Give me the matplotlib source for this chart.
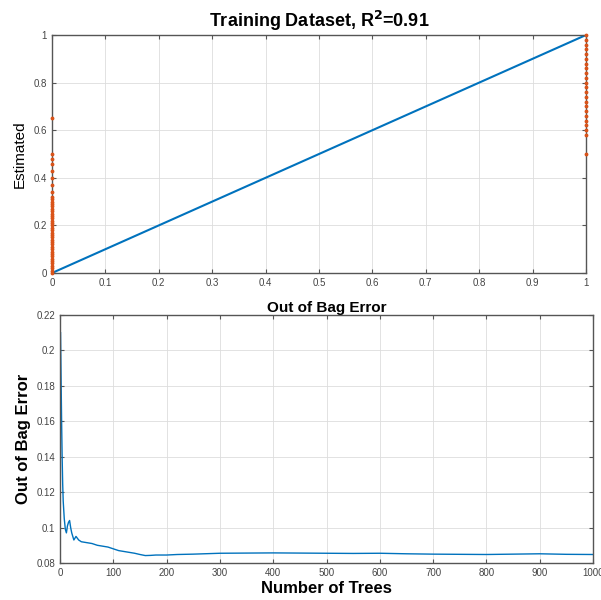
import numpy as np
import matplotlib
matplotlib.use('Agg')
from matplotlib import pyplot as plt

plt.rcParams['font.family'] = ['Liberation Sans', 'DejaVu Sans']

# top panel: estimated values for the two true classes
actual_zero_est = [0.0, 0.01, 0.02, 0.03, 0.04, 0.05, 0.06, 0.07, 0.08, 0.09,
                   0.10, 0.11, 0.12, 0.13, 0.14, 0.15, 0.16, 0.17, 0.18, 0.19,
                   0.20, 0.21, 0.22, 0.23, 0.24, 0.25, 0.26, 0.27, 0.28, 0.29,
                   0.30, 0.31, 0.32, 0.34, 0.37, 0.40, 0.43, 0.46, 0.48, 0.50, 0.65]
actual_one_est = [0.50, 0.58, 0.60, 0.62, 0.64, 0.66, 0.68, 0.70, 0.72, 0.74,
                  0.76, 0.78, 0.80, 0.82, 0.84, 0.86, 0.88, 0.90, 0.92, 0.94,
                  0.96, 0.98, 1.0]
r2 = 0.91

# bottom panel: out of bag error vs number of trees
n_trees = [1, 2, 3, 4, 5, 6, 8, 10, 12, 14, 16, 18, 20, 22, 24, 26, 28, 30,
           35, 40, 50, 60, 70, 80, 90, 100, 110, 120, 130, 140, 150, 160, 170,
           180, 200, 220, 250, 280, 300, 350, 400, 450, 500, 550, 600, 650,
           700, 750, 800, 850, 900, 950, 1000]
oob_err = [0.210, 0.185, 0.160, 0.140, 0.125, 0.115, 0.105, 0.099, 0.097, 0.101,
           0.103, 0.104, 0.100, 0.097, 0.095, 0.093, 0.094, 0.095, 0.093, 0.092,
           0.0915, 0.091, 0.090, 0.0895, 0.089, 0.088, 0.087, 0.0865, 0.086,
           0.0855, 0.0848, 0.0842, 0.0843, 0.0845, 0.0845, 0.0848, 0.085,
           0.0853, 0.0855, 0.0856, 0.0857, 0.0856, 0.0855, 0.0854, 0.0855,
           0.0852, 0.085, 0.0849, 0.0848, 0.085, 0.0852, 0.0849, 0.0848]

BLUE = '#0072BD'
ORANGE = '#D95319'
SPINE = '#555555'

fig = plt.figure(figsize=(6.01, 6.00), dpi=100)
ax1 = fig.add_axes([52 / 601, 1 - 273 / 600, 534 / 601, 238 / 600])
ax2 = fig.add_axes([60 / 601, 1 - 563 / 600, 533 / 601, 248 / 600])


def style(ax):
    ax.grid(True, color='#dddddd', linewidth=0.6)
    ax.set_axisbelow(True)
    for s in ax.spines.values():
        s.set_color(SPINE)
        s.set_linewidth(1.0)
    ax.tick_params(direction='in', top=True, right=True, length=3,
                   labelsize=7, colors=SPINE, labelcolor='#444444')


ax1.plot([0, 1], [0, 1], color=BLUE, linewidth=1.5, zorder=2)
ax1.plot(np.zeros(len(actual_zero_est)), actual_zero_est, '.', color=ORANGE,
         markersize=3.5, clip_on=False, zorder=3)
ax1.plot(np.ones(len(actual_one_est)), actual_one_est, '.', color=ORANGE,
         markersize=3.5, clip_on=False, zorder=3)
ax1.set_xlim(0, 1)
ax1.set_ylim(0, 1)
ax1.set_xticks(np.arange(0, 1.01, 0.1))
ax1.set_xticklabels(['0', '0.1', '0.2', '0.3', '0.4', '0.5', '0.6', '0.7',
                     '0.8', '0.9', '1'])
ax1.set_yticks(np.arange(0, 1.01, 0.2))
ax1.set_yticklabels(['0', '0.2', '0.4', '0.6', '0.8', '1'])
ax1.set_ylabel('Estimated', fontsize=11, labelpad=5)
ax1.set_title('Training Dataset, R$^{\\mathbf{2}}$=%.2f' % r2, fontsize=13,
              fontweight='bold', pad=6)
style(ax1)

ax2.plot(n_trees, oob_err, color=BLUE, linewidth=1.0)
ax2.set_xlim(0, 1000)
ax2.set_ylim(0.08, 0.22)
ax2.set_xticks(np.arange(0, 1001, 100))
ax2.set_yticks(np.arange(0.08, 0.221, 0.02))
ax2.set_yticklabels(['0.08', '0.1', '0.12', '0.14', '0.16', '0.18', '0.2', '0.22'])
ax2.set_xlabel('Number of Trees', fontsize=12, fontweight='bold', labelpad=2)
ax2.set_ylabel('Out of Bag Error', fontsize=12, fontweight='bold', labelpad=4)
ax2.set_title('Out of Bag Error', fontsize=11, fontweight='bold', pad=2)
style(ax2)

fig.savefig('out.png', dpi=100)
